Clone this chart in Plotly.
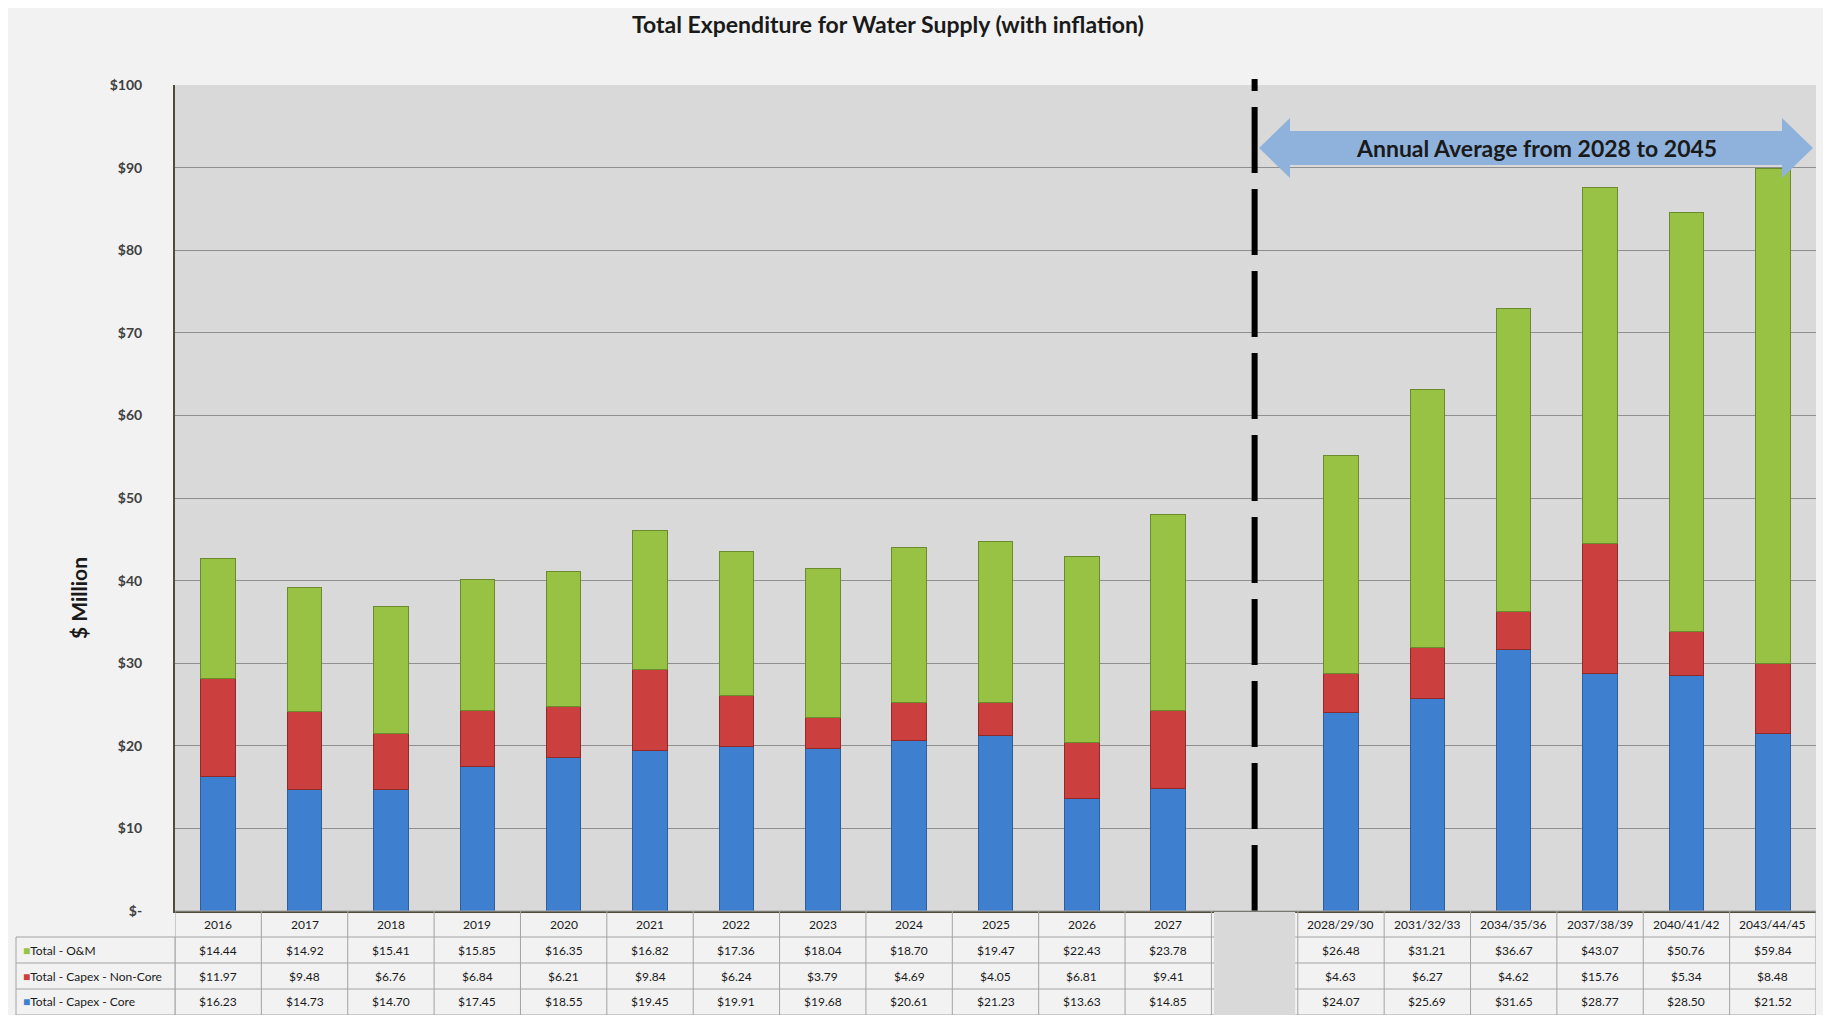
import plotly.graph_objects as go

# ---- data -------------------------------------------------------------
years = ["2016", "2017", "2018", "2019", "2020", "2021", "2022", "2023",
         "2024", "2025", "2026", "2027"]
periods = ["2028/29/30", "2031/32/33", "2034/35/36", "2037/38/39",
           "2040/41/42", "2043/44/45"]
GAP = " "
categories = years + [GAP] + periods

om_years = [14.44, 14.92, 15.41, 15.85, 16.35, 16.82, 17.36, 18.04, 18.70, 19.47, 22.43, 23.78]
om_periods = [26.48, 31.21, 36.67, 43.07, 50.76, 59.84]
noncore_years = [11.97, 9.48, 6.76, 6.84, 6.21, 9.84, 6.24, 3.79, 4.69, 4.05, 6.81, 9.41]
noncore_periods = [4.63, 6.27, 4.62, 15.76, 5.34, 8.48]
core_years = [16.23, 14.73, 14.70, 17.45, 18.55, 19.45, 19.91, 19.68, 20.61, 21.23, 13.63, 14.85]
core_periods = [24.07, 25.69, 31.65, 28.77, 28.50, 21.52]

y_ticks = list(range(0, 101, 10))
y_ticktext = ["$-"] + [f"${v}" for v in y_ticks[1:]]

# ---- style ------------------------------------------------------------
BLUE = "#3f7fcf"
RED = "#cc3f3f"
GREEN = "#98c244"
ARROW = "#8eb2dc"
BG = "#f2f2f2"
PLOT_BG = "#d9d9d9"
GRID = "#8f8f8f"
BORDER = "#a3a3a3"
TEXT = "#1a1a1a"
FONT = "Lato, 'Open Sans', sans-serif"

W, H = 1815, 1007
ML, MR, MT, MB = 167, 7, 77, 104
PW, PH = W - ML - MR, H - MT - MB
ROW_Y = [H - MB, H - MB + 26, H - MB + 52, H - MB + 78, H]


def px(x):
    return (x - ML) / PW


def py(y):
    return (H - MB - y) / PH


def with_gap(a, b):
    return a + [None] + b


series = [
    ("Total - Capex - Core", with_gap(core_years, core_periods), BLUE, "#2c5f9e"),
    ("Total - Capex - Non-Core", with_gap(noncore_years, noncore_periods), RED, "#8f2a2a"),
    ("Total - O&M", with_gap(om_years, om_periods), GREEN, "#6a8a2c"),
]

fig = go.Figure()
for name, vals, col, edge in series:
    fig.add_trace(go.Bar(
        x=categories, y=vals, name=name,
        marker=dict(color=col, line=dict(color=edge, width=1)),
        hovertemplate="%{x}<br>" + name + ": $%{y:.2f}<extra></extra>",
    ))

shapes = []
annotations = []

# dashed divider through the gap slot
gap_i = categories.index(GAP)
shapes.append(dict(type="line", xref="x", yref="paper", x0=gap_i, x1=gap_i,
                   y0=0, y1=py(MT - 6), line=dict(color="black", width=6, dash="66px,16px"),
                   layer="above"))

# double-headed block arrow (pixel geometry)
lx, rx, head = 1251, 1805, 31
cy, sh, hh = 140, 17, 30
pts = [(lx, cy), (lx + head, cy - hh), (lx + head, cy - sh), (rx - head, cy - sh),
       (rx - head, cy - hh), (rx, cy), (rx - head, cy + hh), (rx - head, cy + sh),
       (lx + head, cy + sh), (lx + head, cy + hh)]
path = "M " + " L ".join(f"{px(x):.5f},{py(y):.5f}" for x, y in pts) + " Z"
shapes.append(dict(type="path", xref="paper", yref="paper", path=path,
                   fillcolor=ARROW, line=dict(width=0), layer="above"))
annotations.append(dict(text="<b>Annual Average from 2028 to 2045</b>", xref="paper", yref="paper",
                        x=px(1528), y=py(cy), xanchor="center", yanchor="middle", showarrow=False,
                        font=dict(family=FONT, size=23, color=TEXT)))

# ---- data table below the plot ----------------------------------------
n = len(categories)
# horizontal borders
for k, yy in enumerate(ROW_Y):
    x_start = px(8) if k >= 1 else 0
    shapes.append(dict(type="line", xref="paper", yref="paper", x0=x_start, x1=1,
                       y0=py(yy), y1=py(yy), line=dict(color=BORDER, width=1)))
# vertical borders
for i in range(n + 1):
    shapes.append(dict(type="line", xref="x", yref="paper", x0=i - 0.5, x1=i - 0.5,
                       y0=py(ROW_Y[0]), y1=py(ROW_Y[-1]), line=dict(color=BORDER, width=1)))
for xx in (8, ML):
    shapes.append(dict(type="line", xref="paper", yref="paper", x0=px(xx), x1=px(xx),
                       y0=py(ROW_Y[1]), y1=py(ROW_Y[-1]), line=dict(color=BORDER, width=1)))
# grey block under the gap slot
shapes.append(dict(type="rect", xref="x", yref="paper", x0=gap_i - 0.47, x1=gap_i + 0.47,
                   y0=py(ROW_Y[0] + 1), y1=py(ROW_Y[-1]), fillcolor=PLOT_BG,
                   line=dict(width=0), layer="above"))

row_vals = [
    ("Total - O&M", GREEN, with_gap(om_years, om_periods)),
    ("Total - Capex - Non-Core", RED, with_gap(noncore_years, noncore_periods)),
    ("Total - Capex - Core", BLUE, with_gap(core_years, core_periods)),
]

cell_font = dict(family=FONT, size=12, color=TEXT)
for i, cat in enumerate(categories):
    if cat == GAP:
        continue
    annotations.append(dict(text=cat, xref="x", yref="paper", x=i,
                            y=py((ROW_Y[0] + ROW_Y[1]) / 2), xanchor="center", yanchor="middle",
                            showarrow=False, font=cell_font))
for r, (label, col, vals) in enumerate(row_vals):
    ymid = py((ROW_Y[r + 1] + ROW_Y[r + 2]) / 2)
    annotations.append(dict(text=f"<span style='color:{col}'>■</span>{label}", xref="paper", yref="paper",
                            x=px(13), y=ymid, xanchor="left", yanchor="middle", showarrow=False,
                            font=dict(family=FONT, size=12, color=TEXT)))
    for i, v in enumerate(vals):
        if v is None:
            continue
        annotations.append(dict(text=f"${v:.2f}", xref="x", yref="paper", x=i, y=ymid,
                                xanchor="center", yanchor="middle", showarrow=False, font=cell_font))

# titles
annotations.append(dict(text="<b>Total Expenditure for Water Supply (with inflation)</b>",
                        xref="paper", yref="paper", x=px(880), y=py(16), xanchor="center",
                        yanchor="middle", showarrow=False,
                        font=dict(family=FONT, size=23, color=TEXT)))
annotations.append(dict(text="<b>$ Million</b>", xref="paper", yref="paper", x=px(70), y=py(590),
                        xanchor="center", yanchor="middle", textangle=-90, showarrow=False,
                        font=dict(family=FONT, size=21, color=TEXT)))

fig.update_layout(
    width=W, height=H,
    margin=dict(l=ML, r=MR, t=MT, b=MB, pad=0),
    barmode="stack", bargap=0.6,
    paper_bgcolor=BG, plot_bgcolor=PLOT_BG,
    font=dict(family=FONT, color=TEXT),
    showlegend=False,
    xaxis=dict(type="category", categoryorder="array", categoryarray=categories,
               range=[-0.5, n - 0.5], showticklabels=False, ticks="",
               showgrid=False, showline=True, linecolor="#4f4c3c", linewidth=2, fixedrange=True),
    yaxis=dict(range=[0, 100], tickvals=y_ticks, ticktext=y_ticktext,
               tickfont=dict(family=FONT, size=14, color="#404040", weight="bold"),
               ticklabelstandoff=28, gridcolor=GRID, gridwidth=1, zeroline=False,
               showline=True, linecolor="#4f4c3c", linewidth=2, fixedrange=True),
    shapes=shapes, annotations=annotations,
)

fig.write_html("out.html")
